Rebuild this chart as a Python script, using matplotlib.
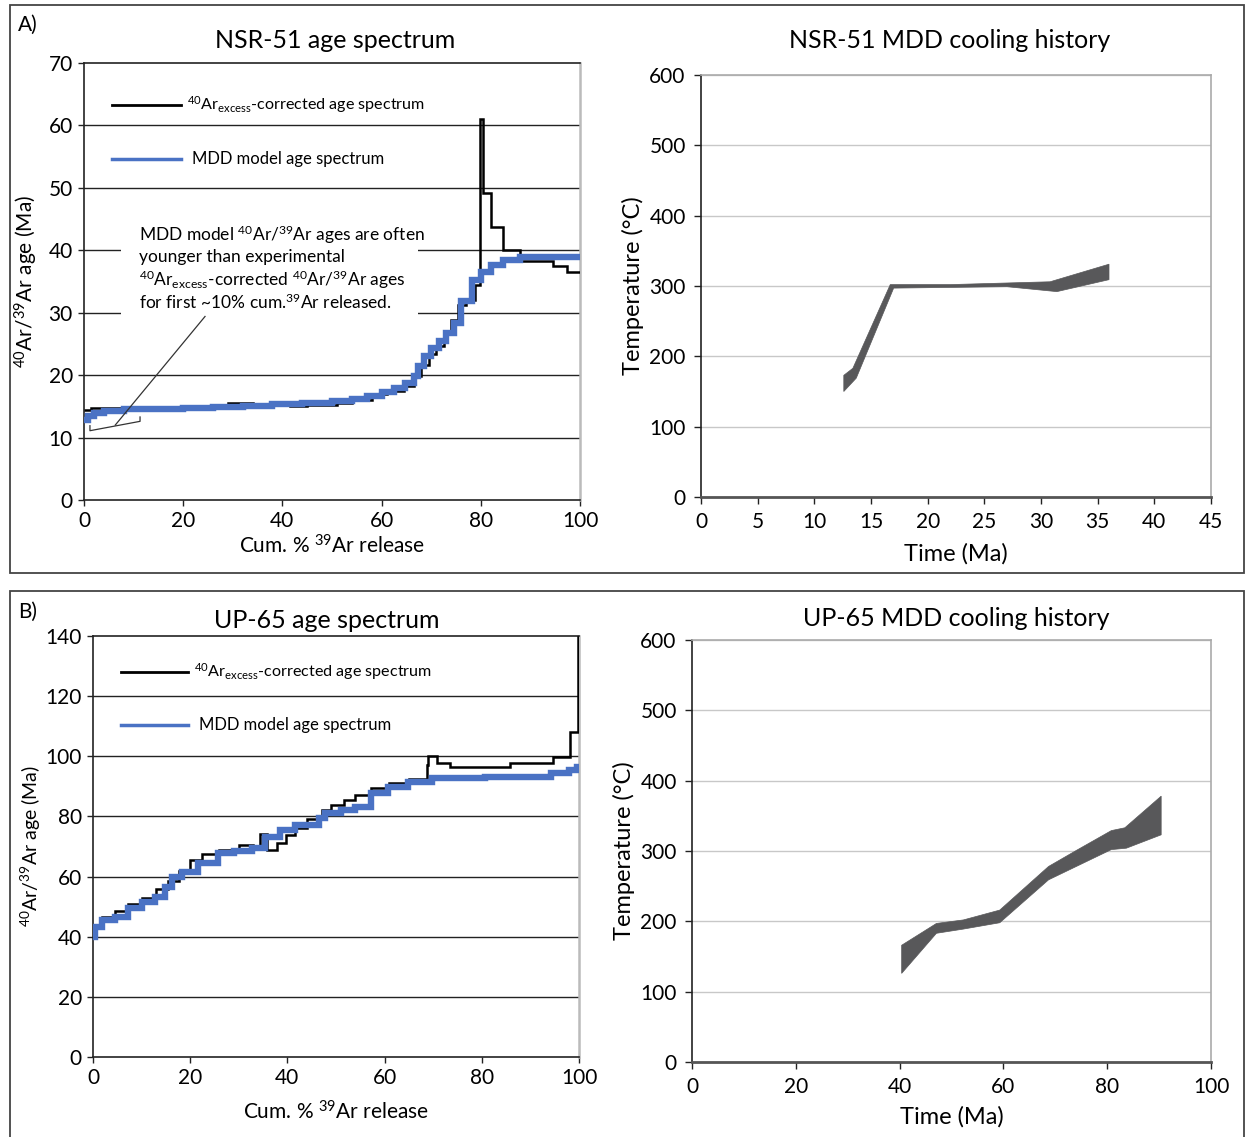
import matplotlib
matplotlib.use('Agg')
import matplotlib.pyplot as plt
from matplotlib.patches import Rectangle
import numpy as np

plt.rcParams['font.family'] = ['Lato', 'DejaVu Sans']
plt.rcParams['mathtext.fontset'] = 'custom'
plt.rcParams['mathtext.rm'] = 'Lato'
plt.rcParams['mathtext.it'] = 'Lato:italic'
plt.rcParams['mathtext.bf'] = 'Lato:bold'

W, H = 1246, 1137

# ---- NSR-51 age spectrum (cum % 39Ar edges, ages in Ma) ----
a_blk_edges = [0, 1.5, 6, 14, 22, 29, 34, 41.5, 45, 51, 54, 58, 61, 64.5, 66.5, 68, 69.5, 71, 72.5, 74,
               75.5, 77, 78.8, 79.8, 80.5, 82, 84.5, 88, 94.5, 97.3, 100]
a_blk_ages = [14.4, 14.7, 14.8, 14.9, 15.0, 15.5, 15.2, 15.0, 15.2, 15.6, 16.0, 16.9, 17.5, 18.3, 19.8,
              21.6, 23.4, 24.6, 26.6, 28.8, 31.2, 32.0, 34.5, 61.0, 49.2, 43.7, 40.0, 38.3, 37.5, 36.6]
a_mdd_edges = [0, 0.8, 2, 4, 8, 14, 20, 26, 32, 38, 44, 50, 54, 57, 60, 62.5, 64.8, 66.5, 67.3, 68.5,
               70, 71.5, 73, 74.6, 76, 78.3, 80, 82, 84.5, 88, 100]
a_mdd_ages = [12.8, 13.5, 14.0, 14.3, 14.5, 14.6, 14.8, 14.9, 15.1, 15.3, 15.5, 15.8, 16.2, 16.7, 17.3,
              17.9, 18.7, 19.8, 21.4, 23.0, 24.3, 25.4, 26.7, 28.3, 31.8, 35.3, 36.5, 37.7, 38.5, 38.9]

# ---- NSR-51 cooling envelope (time Ma, temperature C) ----
a_up_t = [12.6, 13.4, 16.7, 22, 30.8, 36.0]
a_up_T = [173, 183, 302, 302, 306, 331]
a_lo_t = [12.6, 13.7, 17.0, 27, 31.4, 36.0]
a_lo_T = [150, 169, 297, 299, 292, 309]

# ---- UP-65 age spectrum ----
b_blk_edges = [0, 0.5, 1.8, 4.5, 7.3, 10, 13, 15.5, 17.6, 20, 22.5, 26, 30, 33, 34.3, 35.7, 37.8, 39.8,
               41.6, 44, 47.2, 49, 51.6, 54, 57.3, 61, 65, 68.7, 69, 70.8, 73.5, 85.8, 94.7, 98.1, 99.8, 100]
b_blk_ages = [40.0, 44.0, 46.5, 48.5, 51.0, 53.0, 56.0, 58.5, 62.0, 65.5, 67.5, 69.0, 70.5, 69.5, 74.2,
              68.8, 71.1, 73.8, 76.0, 79.0, 82.1, 83.8, 85.5, 87.1, 89.5, 91.2, 92.3, 97.1, 100.1, 97.9,
              96.5, 97.7, 99.9, 108.2, 139.8]
b_mdd_edges = [0, 0.5, 1.8, 4.5, 7.3, 10, 12.8, 14.8, 16.2, 18.3, 21.7, 25.8, 29, 32.7, 35.4, 38.5,
               41.6, 46.4, 47.7, 51, 53.9, 57.3, 60.8, 64.9, 69.7, 80.6, 94.3, 98, 99.5, 100]
b_mdd_ages = [40.0, 43.3, 45.6, 46.7, 49.4, 51.6, 53.3, 56.6, 60.0, 61.6, 64.4, 67.7, 68.6, 69.4, 73.3,
              75.5, 77.2, 79.4, 81.0, 82.0, 83.2, 87.7, 89.9, 91.6, 92.7, 93.2, 94.3, 95.4, 96.5]

# ---- UP-65 cooling envelope ----
b_up_t = [40.4, 47.1, 52.3, 59.3, 68.7, 74.1, 80.8, 83.4, 90.4]
b_up_T = [166, 197, 202, 216, 278, 301, 329, 333, 378]
b_lo_t = [40.4, 47.1, 52.3, 59.3, 68.7, 80.8, 83.7, 90.4]
b_lo_T = [126, 183, 189, 198, 259, 302, 304, 323]

BLUE = '#4a72c4'
BAND = '#58585a'

fig = plt.figure(figsize=(W / 100, H / 100), dpi=100)


def px_axes(l, t, r, b):
    return fig.add_axes([l / W, 1 - b / H, (r - l) / W, (b - t) / H])


def ftext(x, y, s, **kw):
    fig.text(x / W, 1 - y / H, s, **kw)


# panel frames
for top, bot in [(5, 573), (591, 1140)]:
    fig.patches.append(Rectangle((10 / W, 1 - bot / H), 1234 / W, (bot - top) / H,
                                 transform=fig.transFigure, fill=False, ec='#444444', lw=1.3))


def style_spectrum(ax, ymax, ystep):
    ax.set_xlim(0, 100)
    ax.set_ylim(0, ymax)
    ax.set_xticks(range(0, 101, 20))
    ax.set_yticks(range(0, ymax + 1, ystep))
    for y in range(ystep, ymax, ystep):
        ax.axhline(y, color='#222222', lw=1.0, zorder=1)
    for s in ['left', 'bottom', 'top']:
        ax.spines[s].set_color('#222222')
        ax.spines[s].set_linewidth(1.2)
    ax.spines['right'].set_color('#bbbbbb')
    ax.spines['right'].set_linewidth(1.8)
    ax.tick_params(direction='out', length=4, width=1, labelsize=15, pad=4, color='#222222')


def style_cooling(ax, xmax, xstep, xgrid):
    ax.set_xlim(0, xmax)
    ax.set_ylim(0, 600)
    ax.set_xticks(range(0, xmax + 1, xstep))
    ax.set_yticks(range(0, 601, 100))
    ax.set_xticks(xgrid, minor=True)
    ax.grid(True, which='minor', axis='x', color='#c8c8c8', lw=1.0)
    ax.grid(True, which='major', axis='y', color='#c8c8c8', lw=1.0)
    ax.tick_params(which='minor', length=0)
    ax.spines['left'].set_color('#222222')
    ax.spines['left'].set_linewidth(1.2)
    ax.spines['bottom'].set_color('#555555')
    ax.spines['bottom'].set_linewidth(2.0)
    for s in ['top', 'right']:
        ax.spines[s].set_color('#aaaaaa')
        ax.spines[s].set_linewidth(1.2)
    ax.tick_params(direction='out', length=5, width=1, labelsize=15, pad=6, color='#222222')
    ax.set_axisbelow(True)


def legend_block(ax, y1, y2):
    ax.plot([0.057, 0.195], [y1, y1], color='black', lw=2, transform=ax.transAxes, clip_on=False)
    ax.plot([0.057, 0.195], [y2, y2], color=BLUE, lw=2.5, transform=ax.transAxes, clip_on=False)
    ax.text(0.208, y1, r'$^{40}$Ar$_{\mathrm{excess}}$-corrected age spectrum', transform=ax.transAxes,
            fontsize=11.6, va='center')
    ax.text(0.218, y2, 'MDD model age spectrum', transform=ax.transAxes, fontsize=12, va='center')


# ================= A left =================
ax1 = px_axes(84, 63, 580, 500)
style_spectrum(ax1, 70, 10)
ax1.stairs(a_blk_ages, a_blk_edges, baseline=None, color='black', lw=1.8, zorder=3)
ax1.stairs(a_mdd_ages, a_mdd_edges, baseline=None, color=BLUE, lw=4.6, zorder=4)
legend_block(ax1, 0.904, 0.78)
ax1.add_patch(Rectangle((7.5, 29.2), 59.8, 16.5, fc='white', ec='none', zorder=2))
note = [r'MDD model $^{40}$Ar/$^{39}$Ar ages are often',
        'younger than experimental',
        r'$^{40}$Ar$_{\mathrm{excess}}$-corrected $^{40}$Ar/$^{39}$Ar ages',
        r'for first ~10% cum.$^{39}$Ar released.']
for s, y in zip(note, [42.5, 38.9, 35.3, 31.6]):
    ax1.text(11.1, y, s, fontsize=12.5, va='center', zorder=5)
ax1.plot([24.4, 6.3], [29.4, 12.0], color='#333333', lw=0.9, zorder=5)
ax1.plot([1.2, 1.2, 11.3, 11.3], [11.9, 11.1, 12.6, 13.3], color='#333333', lw=0.9, zorder=5)
ax1.set_xlabel(r'Cum. % $^{39}$Ar release', fontsize=15, labelpad=2)
ax1.set_ylabel(r'$^{40}$Ar/$^{39}$Ar age (Ma)', fontsize=15, labelpad=6)

# ================= A right =================
ax2 = px_axes(701, 75, 1211, 497)
style_cooling(ax2, 45, 5, [10, 20, 30, 40])
ax2.fill(a_up_t + a_lo_t[::-1], a_up_T + a_lo_T[::-1], color=BAND, lw=0.5, ec=BAND, zorder=3)
ax2.set_xlabel('Time (Ma)', fontsize=17, labelpad=8)
ax2.set_ylabel('Temperature (\u00b0C)', fontsize=17, labelpad=4)

# ================= B left =================
ax3 = px_axes(93, 636, 579, 1057)
style_spectrum(ax3, 140, 20)
ax3.stairs(b_blk_ages, b_blk_edges, baseline=None, color='black', lw=1.8, zorder=3)
ax3.stairs(b_mdd_ages, b_mdd_edges, baseline=None, color=BLUE, lw=4.6, zorder=4)
legend_block(ax3, 0.915, 0.788)
ax3.set_xlabel(r'Cum. % $^{39}$Ar release', fontsize=15, labelpad=9)
ax3.set_ylabel(r'$^{40}$Ar/$^{39}$Ar age (Ma)', fontsize=14, labelpad=2)

# ================= B right =================
ax4 = px_axes(692, 640, 1211, 1062)
style_cooling(ax4, 100, 20, [20, 40, 60, 80])
ax4.fill(b_up_t + b_lo_t[::-1], b_up_T + b_lo_T[::-1], color=BAND, lw=0.5, ec=BAND, zorder=3)
ax4.set_xlabel('Time (Ma)', fontsize=17, labelpad=6)
ax4.set_ylabel('Temperature (\u00b0C)', fontsize=17, labelpad=4)

# titles and panel letters
ftext(335, 40, 'NSR-51 age spectrum', fontsize=18, ha='center', va='center')
ftext(950, 40, 'NSR-51 MDD cooling history', fontsize=18, ha='center', va='center')
ftext(327, 621, 'UP-65 age spectrum', fontsize=18, ha='center', va='center')
ftext(956, 619, 'UP-65 MDD cooling history', fontsize=18, ha='center', va='center')
ftext(18, 25, 'A)', fontsize=15, va='center')
ftext(18, 612, 'B)', fontsize=15, va='center')

fig.savefig('out.png', dpi=100)
